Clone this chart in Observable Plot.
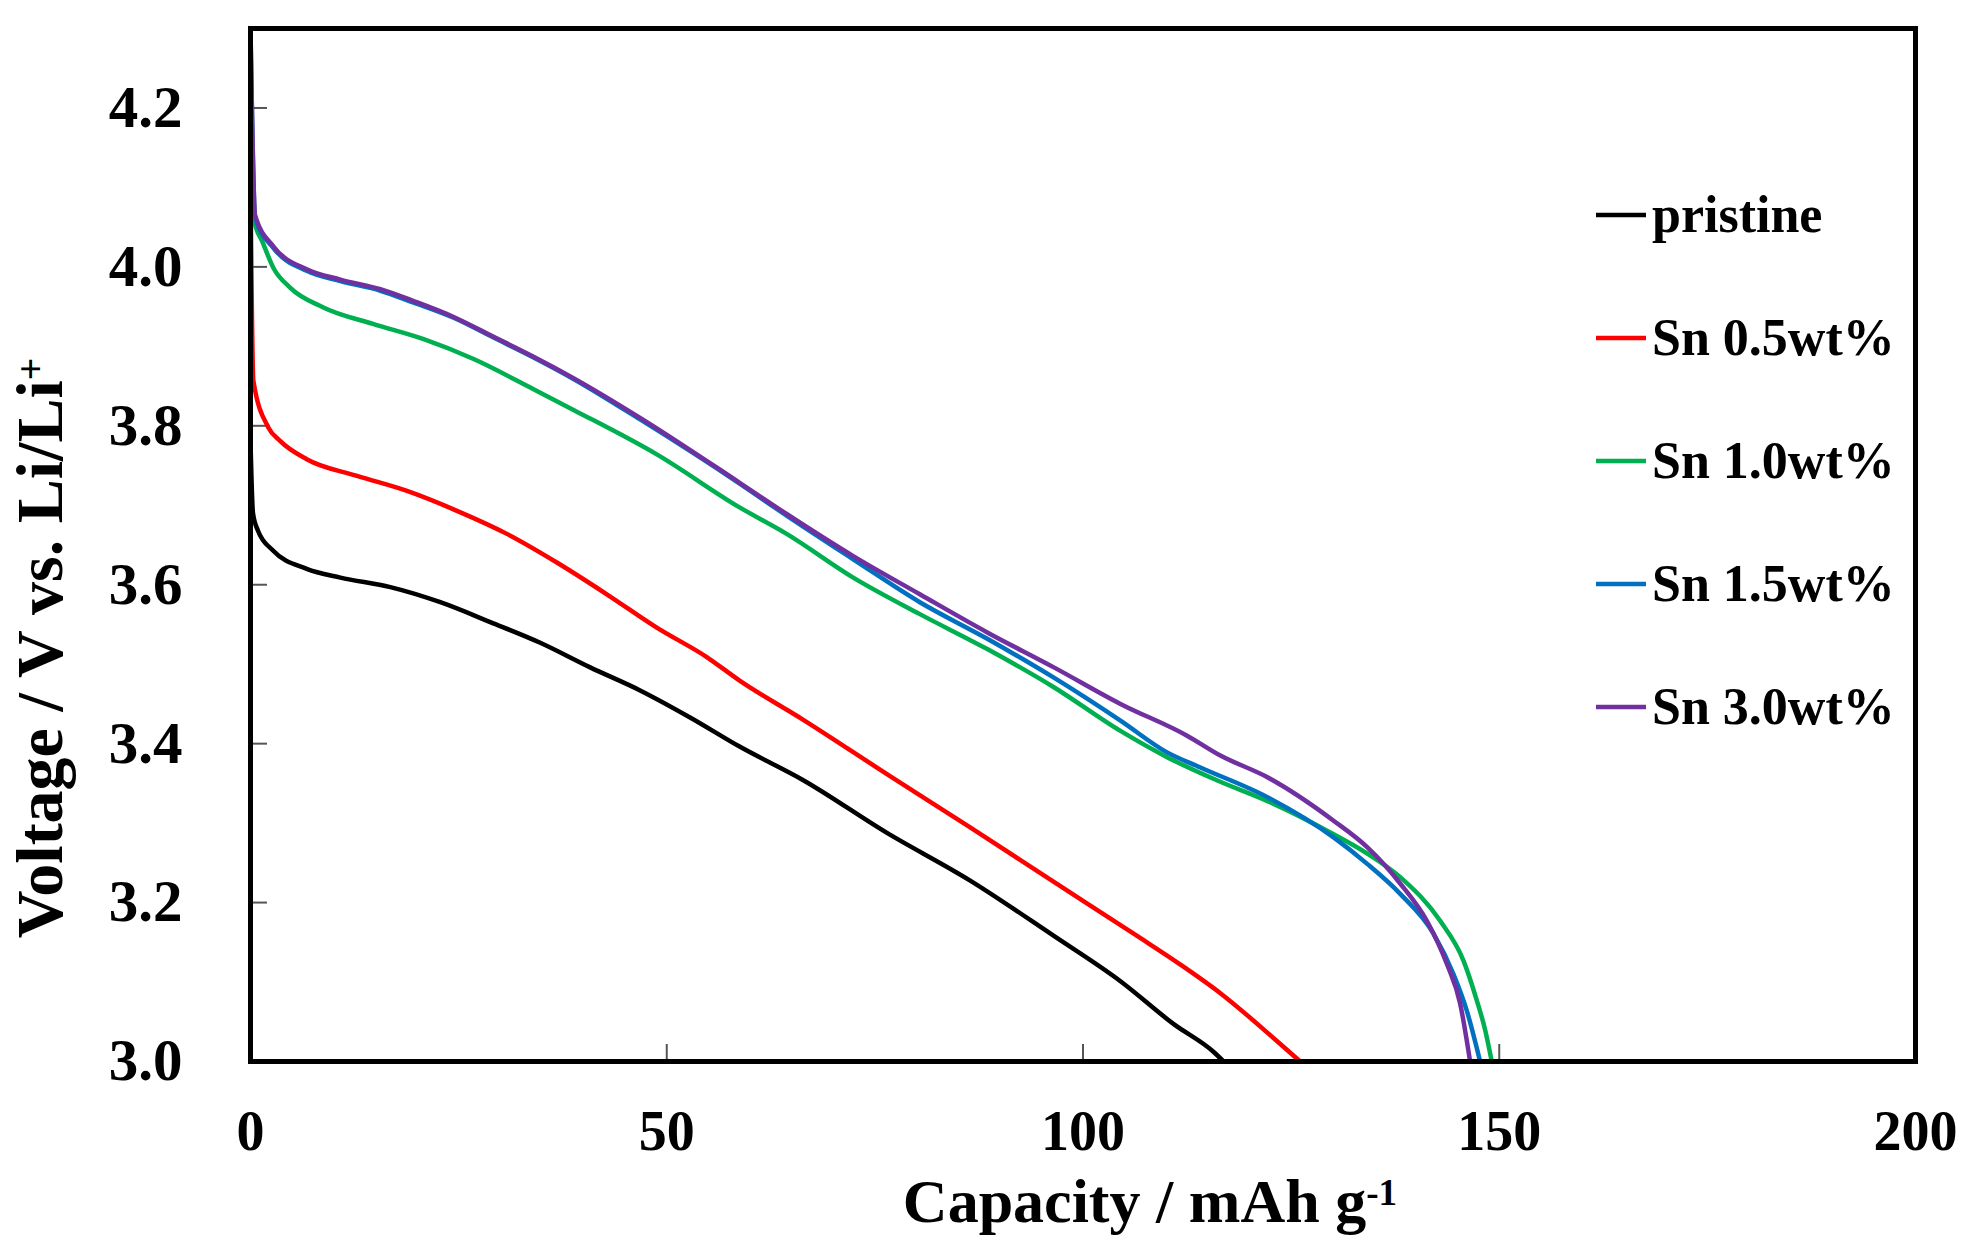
<!DOCTYPE html>
<html>
<head>
<meta charset="utf-8">
<script src="https://cdn.jsdelivr.net/npm/d3@7"></script>
<script src="https://cdn.jsdelivr.net/npm/@observablehq/plot@0.6"></script>
<style>
  html, body { margin: 0; padding: 0; background: #fff; }
  #chart { position: relative; width: 1966px; height: 1247px; }
</style>
</head>
<body>
<div id="chart"></div>
<script>
const seriesNames = ["pristine", "Sn 0.5wt%", "Sn 1.0wt%", "Sn 1.5wt%", "Sn 3.0wt%"];
const seriesColors = ["#000000", "#ff0000", "#00b050", "#0070c0", "#7030a0"];
const xTicks = [0, 50, 100, 150, 200];
const yTicks = [3.0, 3.2, 3.4, 3.6, 3.8, 4.0, 4.2];

// [capacity mAh/g, voltage V]
const pristine = [[0,3.78],[0.3,3.69],[0.9,3.668],[2.7,3.643],[6.75,3.620],[10.8,3.609],[16.8,3.597],[22.8,3.578],[28.8,3.553],[34.8,3.527],[40.8,3.496],[46.8,3.467],[52.8,3.433],[58.8,3.396],[66.4,3.354],[76.4,3.288],[86.4,3.228],[96.5,3.158],[104.5,3.101],[110.9,3.047],[115.7,3.012],[116.9,3.0]];
const sn05 = [[0,4.10],[0.34,3.857],[2.14,3.798],[3.55,3.781],[6.75,3.758],[12.8,3.737],[18.8,3.718],[24.8,3.693],[30.8,3.664],[36.8,3.628],[42.8,3.588],[48.8,3.546],[54.8,3.509],[58.8,3.479],[66.4,3.430],[76.4,3.362],[86.4,3.295],[96.5,3.226],[106.5,3.158],[111.7,3.122],[116.5,3.086],[123.7,3.022],[126.1,3.0]];
const sn10 = [[0,4.2],[0.4,4.06],[1.5,4.03],[2.74,3.999],[4.75,3.974],[8.75,3.949],[14.8,3.928],[20.8,3.909],[26.8,3.884],[34.0,3.846],[38.8,3.82],[48.8,3.764],[58.8,3.697],[64.4,3.664],[72.4,3.609],[80.4,3.563],[88.5,3.519],[96.5,3.471],[104.5,3.416],[110.1,3.383],[116.5,3.352],[122.1,3.328],[130.1,3.286],[134.1,3.262],[138.1,3.232],[142.9,3.177],[145.7,3.127],[147.3,3.077],[148.3,3.04],[149.1,3.0]];
const sn15 = [[0,4.3],[0.55,4.062],[2.74,4.024],[6.75,3.995],[10.8,3.982],[15.6,3.970],[19.6,3.955],[24.4,3.936],[29.2,3.911],[34.0,3.886],[38.8,3.859],[46.8,3.808],[58.8,3.727],[64.4,3.687],[72.4,3.632],[80.4,3.578],[88.5,3.532],[96.5,3.483],[104.5,3.429],[110.1,3.389],[114.1,3.370],[122.1,3.333],[130.1,3.282],[134.1,3.249],[138.1,3.211],[142.1,3.161],[144.5,3.110],[146.1,3.064],[147.7,3.0]];
const sn30 = [[0,4.3],[0.55,4.065],[2.74,4.026],[6.75,3.997],[10.8,3.984],[15.6,3.972],[19.6,3.957],[24.4,3.937],[29.2,3.912],[34.0,3.887],[38.8,3.860],[46.8,3.810],[58.8,3.728],[64.4,3.689],[72.4,3.636],[80.4,3.588],[88.5,3.540],[96.5,3.496],[104.5,3.450],[112.5,3.410],[116.5,3.385],[122.1,3.358],[130.1,3.303],[134.1,3.270],[138.1,3.224],[141.3,3.177],[143.7,3.123],[145.3,3.073],[146.5,3.0]];

const seriesData = [pristine, sn05, sn10, sn15, sn30];
const rows = [];
seriesData.forEach((arr, i) => arr.forEach(([c, v]) => rows.push({series: seriesNames[i], cap: c, v})));

const FONT = "'Liberation Serif', 'Times New Roman', serif";

const chart = Plot.plot({
  width: 1966,
  height: 1247,
  marginLeft: 250,
  marginRight: 51,
  marginTop: 28,
  marginBottom: 186,
  style: {fontFamily: FONT, fontWeight: "bold", background: "#fff", color: "#000", overflow: "visible"},
  x: {domain: [0, 200], ticks: xTicks, label: null},
  y: {domain: [3.0, 4.3], ticks: yTicks, label: null},
  color: {domain: seriesNames, range: seriesColors},
  marks: [
    Plot.axisX({ticks: xTicks, tickSize: -17, tickPadding: 66, fontSize: 56, stroke: "#555", strokeWidth: 2, tickFormat: d3.format("d"), label: null}),
    Plot.axisY({ticks: yTicks, tickSize: -17, tickPadding: 85, fontSize: 59, stroke: "#555", strokeWidth: 2, tickFormat: d3.format(".1f"), label: null}),
    Plot.line(rows, {x: "cap", y: "v", z: "series", stroke: "series", strokeWidth: 4.5, curve: "monotone-x"}),
    Plot.frame({stroke: "#000", strokeWidth: 5})
  ]
});

document.getElementById("chart").appendChild(chart);

const svg = d3.select(chart);

// axis titles
const xt = svg.append("text")
  .attr("x", 1150).attr("y", 1222)
  .attr("text-anchor", "middle")
  .attr("font-family", FONT).attr("font-weight", "bold").attr("font-size", 62).attr("fill", "#000");
xt.append("tspan").text("Capacity / mAh g");
xt.append("tspan").attr("dy", "-0.45em").attr("font-size", "0.6em").text("-1");

const yt = svg.append("text")
  .attr("transform", "translate(62,648) rotate(-90)")
  .attr("text-anchor", "middle")
  .attr("font-family", FONT).attr("font-weight", "bold").attr("font-size", 66).attr("fill", "#000");
yt.append("tspan").text("Voltage / V vs. Li/Li");
yt.append("tspan").attr("dy", "-0.45em").attr("font-size", "0.6em").text("+");

// legend
const lg = svg.append("g");
seriesNames.forEach((name, i) => {
  const cy = 215 + 123 * i;
  lg.append("line").attr("x1", 1596).attr("x2", 1646).attr("y1", cy).attr("y2", cy)
    .attr("stroke", seriesColors[i]).attr("stroke-width", 4.5);
  lg.append("text").attr("x", 1652).attr("y", cy + 17)
    .attr("text-anchor", "start")
    .attr("font-family", FONT).attr("font-weight", "bold").attr("font-size", 52).attr("fill", "#000")
    .text(name);
});
</script>
</body>
</html>
